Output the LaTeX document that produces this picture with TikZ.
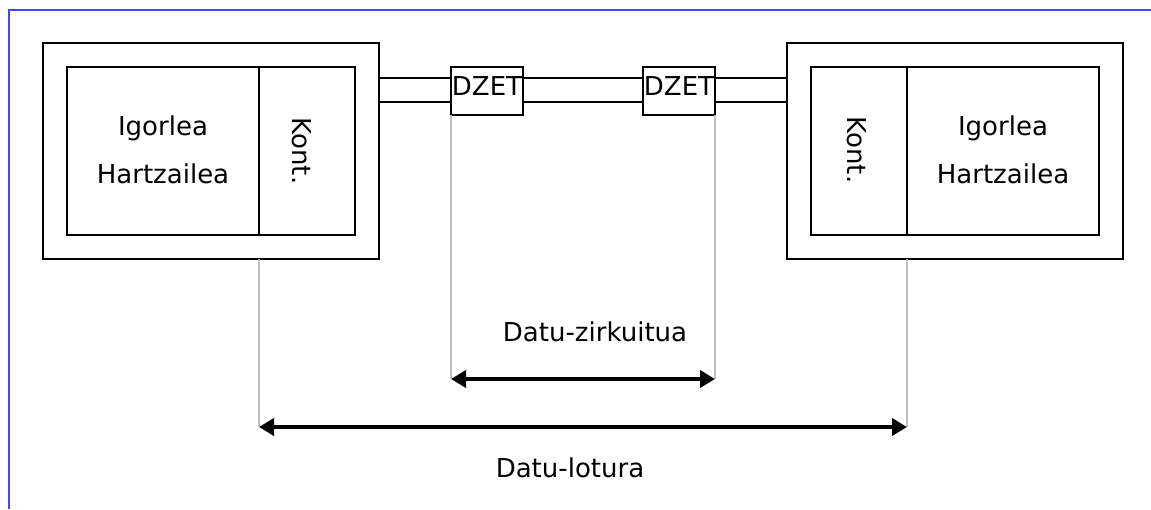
\documentclass[tikz,border=0pt]{standalone}
\usepackage{fontspec}
\setmainfont{DejaVu Sans}
\usetikzlibrary{arrows.meta}
\definecolor{framecol}{RGB}{70,70,255}
\definecolor{guidecol}{RGB}{192,192,192}
\tikzset{
  box/.style={draw=black, line width=2.4pt, fill=white, inner sep=0pt, outer sep=0pt},
  lbl/.style={inner sep=0pt, outer sep=0pt, font=\fontsize{26}{31}\selectfont},
  guide/.style={draw=guidecol, line width=1.8pt},
  span/.style={line width=4.5pt, {Triangle[length=15pt,width=17pt]}-{Triangle[length=15pt,width=17pt]}},
  frameline/.style={draw=framecol, line width=2.5pt}
}
\begin{document}
\begin{tikzpicture}[x=1pt,y=-1pt]
\useasboundingbox (0,0) rectangle (1151,509);
% frame
\draw[frameline] (9,509) -- (9,10) -- (1151,10);
% cable
\node[box, minimum width=408pt, minimum height=24pt] (cable) at (583,90) {};
% left station
\node[box, minimum width=336pt, minimum height=216pt] (L) at (211,151) {};
\node[box, minimum width=192pt, minimum height=168pt] (IL) at (163,151) {};
\node[box, minimum width=96pt, minimum height=168pt] (KL) at (307,151) {};
% right station
\node[box, minimum width=336pt, minimum height=216pt] (R) at (955,151) {};
\node[box, minimum width=96pt, minimum height=168pt] (KR) at (859,151) {};
\node[box, minimum width=192pt, minimum height=168pt] (IR) at (1003,151) {};
% DZET boxes
\node[box, minimum width=72pt, minimum height=48pt] (D1) at (487,91) {};
\node[box, minimum width=72pt, minimum height=48pt] (D2) at (679,91) {};
\node[lbl] (d1t) at (487,86) {DZET};
\node[lbl] (d2t) at (679,86) {DZET};
% texts
\node[lbl, anchor=base] (ig1) at (163,135) {Igorlea};
\node[lbl, anchor=base] (ha1) at (163,183) {Hartzailea};
\node[lbl, rotate=-90] (ko1) at (302,151) {Kont.};
\node[lbl, anchor=base] (ig2) at (1003,135) {Igorlea};
\node[lbl, anchor=base] (ha2) at (1003,183) {Hartzailea};
\node[lbl, rotate=-90] (ko2) at (857,150) {Kont.};
% dimension coordinates
\coordinate (zA) at (D1.south west |- 0,379);
\coordinate (zB) at (D2.south east |- 0,379);
\coordinate (lA) at (KL.south west |- 0,427);
\coordinate (lB) at (KR.south east |- 0,427);
% guides
\draw[guide] (D1.south west) -- (zA);
\draw[guide] (D2.south east) -- (zB);
\draw[guide] (L.south -| lA) -- (lA);
\draw[guide] (R.south -| lB) -- (lB);
% spans
\draw[span] (zA) -- (zB);
\draw[span] (lA) -- (lB);
\node[lbl, anchor=base] (zt) at (595,341) {Datu-zirkuitua};
\node[lbl, anchor=base] (lt) at (570,477) {Datu-lotura};
\end{tikzpicture}
\end{document}
